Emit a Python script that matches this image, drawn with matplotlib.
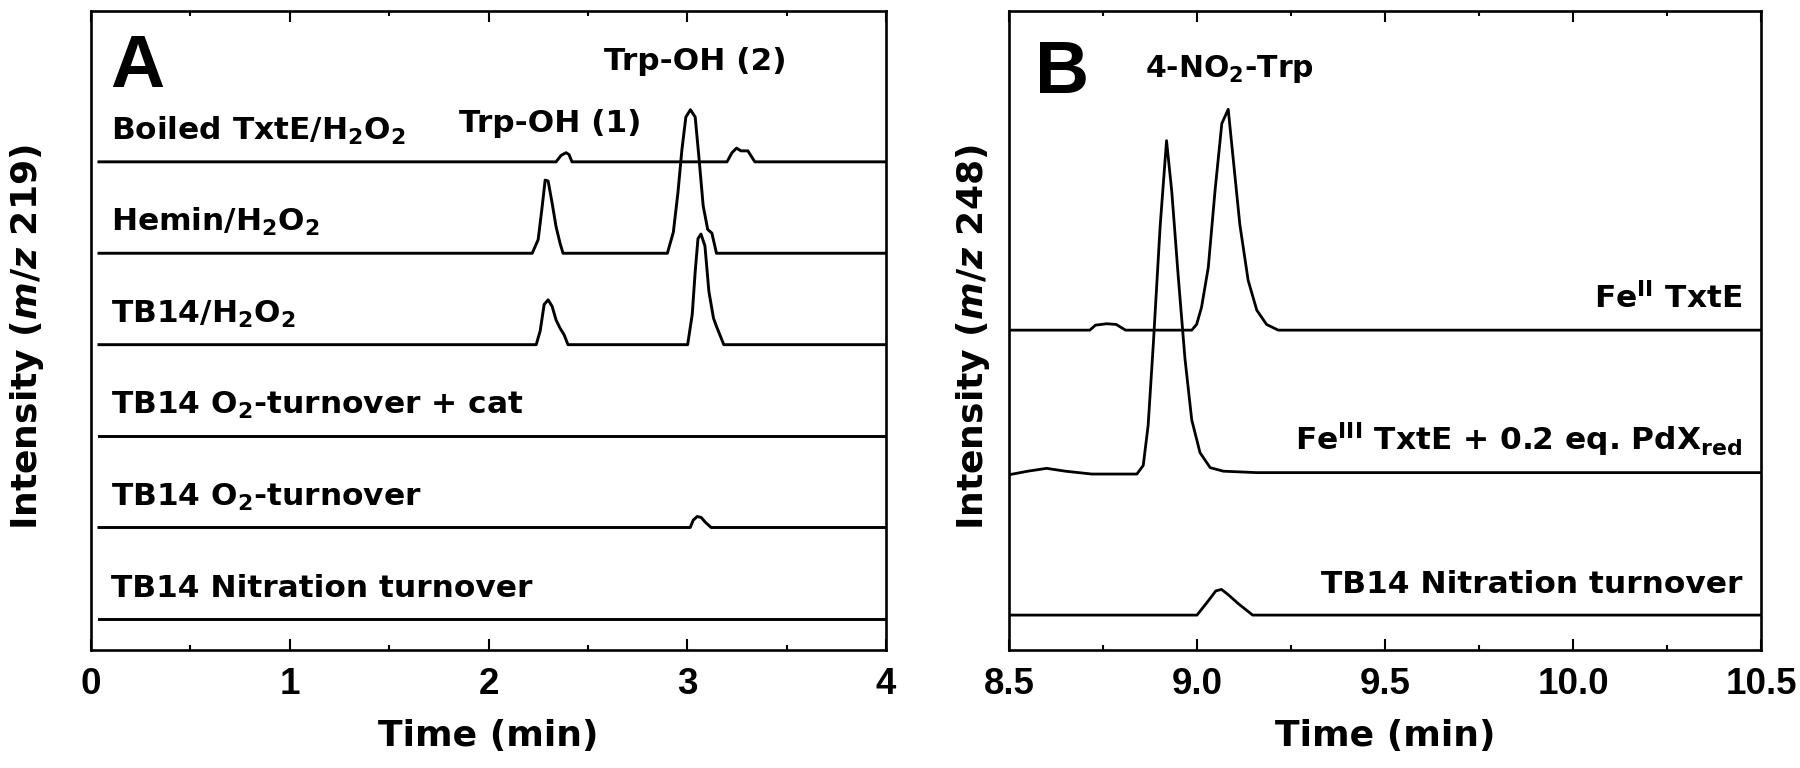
import matplotlib
matplotlib.use("Agg")
import matplotlib.pyplot as plt
from matplotlib.ticker import MultipleLocator, FormatStrFormatter

# ---------------- data ----------------
# Panel A: m/z 219 chromatograms (time in min, relative intensity)
boiled_t = [0.04, 2.34, 2.365, 2.39, 2.405, 2.42, 3.20, 3.225, 3.248, 3.27, 3.305, 3.34, 4.0]
boiled_i = [0, 0, 0.07, 0.10, 0.08, 0, 0, 0.10, 0.15, 0.12, 0.12, 0, 0]

hemin_t = [0.04, 2.22, 2.25, 2.27, 2.285, 2.30, 2.32, 2.34, 2.36, 2.375,
           2.90, 2.93, 2.953, 2.973, 2.993, 3.016, 3.04, 3.06, 3.08, 3.103, 3.124, 3.147, 4.0]
hemin_i = [0, 0, 0.15, 0.51, 0.80, 0.79, 0.55, 0.29, 0.11, 0,
           0, 0.23, 0.66, 1.13, 1.49, 1.57, 1.49, 1.02, 0.52, 0.26, 0.22, 0, 0]

tb14_t = [0.04, 2.24, 2.26, 2.28, 2.30, 2.32, 2.34, 2.36, 2.38, 2.40,
          3.002, 3.025, 3.04, 3.054, 3.069, 3.089, 3.109, 3.132, 3.147, 3.184, 4.0]
tb14_i = [0, 0, 0.15, 0.44, 0.49, 0.42, 0.27, 0.18, 0.11, 0,
          0, 0.33, 0.80, 1.16, 1.21, 1.08, 0.58, 0.29, 0.20, 0, 0]

cat_t = [0.04, 4.0]
cat_i = [0, 0]

o2_t = [0.04, 3.015, 3.03, 3.05, 3.07, 3.09, 3.12, 4.0]
o2_i = [0, 0, 0.08, 0.12, 0.11, 0.06, 0, 0]

nitA_t = [0.04, 4.0]
nitA_i = [0, 0]

labels_A = ["Boiled TxtE/H$_2$O$_2$", "Hemin/H$_2$O$_2$", "TB14/H$_2$O$_2$",
            "TB14 O$_2$-turnover + cat", "TB14 O$_2$-turnover", "TB14 Nitration turnover"]
xticks_A = [0, 1, 2, 3, 4]

# Panel B: m/z 248 chromatograms
fe2_t = [8.5, 8.715, 8.73, 8.76, 8.785, 8.81, 8.986, 8.999, 9.012, 9.030, 9.048, 9.066,
         9.083, 9.096, 9.114, 9.136, 9.159, 9.185, 9.216, 10.5]
fe2_i = [0, 0, 0.035, 0.045, 0.04, 0, 0, 0.04, 0.16, 0.44, 0.98, 1.45,
         1.55, 1.21, 0.74, 0.35, 0.14, 0.04, 0, 0]

fe3_t = [8.5, 8.55, 8.6, 8.65, 8.72, 8.84, 8.857, 8.870, 8.884, 8.902, 8.919, 8.933,
         8.950, 8.968, 8.986, 9.008, 9.035, 9.07, 9.159, 10.5]
fe3_i = [-0.015, 0.01, 0.03, 0.01, -0.01, -0.01, 0.05, 0.33, 0.91, 1.73, 2.33, 1.97,
         1.38, 0.80, 0.37, 0.14, 0.035, 0.01, 0, 0]

nitB_t = [8.5, 9.0, 9.03, 9.05, 9.065, 9.08, 9.11, 9.148, 10.5]
nitB_i = [0, 0, 0.10, 0.17, 0.18, 0.15, 0.08, 0, 0]

labels_B = ["Fe$^{\\mathrm{II}}$ TxtE",
            "Fe$^{\\mathrm{III}}$ TxtE + 0.2 eq. PdX$_{\\mathrm{red}}$",
            "TB14 Nitration turnover"]
xticks_B = [8.5, 9.0, 9.5, 10.0, 10.5]

# ---------------- style ----------------
plt.rcParams['font.family'] = ['DejaVu Sans']
plt.rcParams['font.weight'] = 'bold'
plt.rcParams['mathtext.fontset'] = 'custom'
plt.rcParams['mathtext.rm'] = 'DejaVu Sans:bold'
plt.rcParams['mathtext.it'] = 'DejaVu Sans:italic:bold'
plt.rcParams['mathtext.bf'] = 'DejaVu Sans:bold'

TICKFONT = ['Liberation Sans', 'DejaVu Sans']

fig = plt.figure(figsize=(18, 7.68), dpi=100)
axA = fig.add_axes([91/1800, 118/768, 795/1800, 639/768])
axB = fig.add_axes([1009/1800, 118/768, 752/1800, 639/768])

LBL = 22.5
TICK = 26.5

def style(ax):
    for s in ax.spines.values():
        s.set_linewidth(1.9)
    ax.tick_params(axis='x', which='both', direction='in', top=True, bottom=True,
                   width=1.5, labelsize=TICK, pad=12)
    ax.tick_params(axis='x', which='major', length=8)
    ax.tick_params(axis='x', which='minor', length=3.8)
    ax.tick_params(axis='y', which='both', left=False, right=False, labelleft=False)
    for t in ax.get_xticklabels():
        t.set_fontweight('bold')
        t.set_family(TICKFONT)

# ---------------- panel A ----------------
offsets_A = [5, 4, 3, 2, 1, 0]
traces_A = [(boiled_t, boiled_i), (hemin_t, hemin_i), (tb14_t, tb14_i),
            (cat_t, cat_i), (o2_t, o2_i), (nitA_t, nitA_i)]
for (t, i), off, lab in zip(traces_A, offsets_A, labels_A):
    axA.plot(t, [v + off for v in i], color='black', lw=2.1, solid_joinstyle='round')
    axA.text(0.1, off + 0.24, lab, fontsize=LBL, fontweight='bold', ha='left', va='baseline')

axA.text(2.31, 5.33, "Trp-OH (1)", fontsize=LBL, fontweight='bold', ha='center', va='baseline')
axA.text(3.04, 6.0, "Trp-OH (2)", fontsize=LBL, fontweight='bold', ha='center', va='baseline')
axA.text(0.024, 0.881, "A", transform=axA.transAxes, fontsize=54, fontweight='bold',
         ha='left', va='baseline', family=TICKFONT)

axA.set_xlim(0, 4)
axA.set_ylim(-0.34, 6.65)
axA.set_xticks(xticks_A)
axA.xaxis.set_minor_locator(MultipleLocator(0.5))
axA.xaxis.set_major_formatter(FormatStrFormatter('%d'))
style(axA)
axA.set_xlabel("Time (min)", fontsize=26, fontweight='bold')
axA.xaxis.set_label_coords(0.5, -0.108)
axA.set_ylabel("Intensity ($m/z$ 219)", fontsize=26, fontweight='bold')
axA.yaxis.set_label_coords(-0.057, 0.49)

# ---------------- panel B ----------------
offsets_B = [2, 1, 0]
traces_B = [(fe2_t, fe2_i), (fe3_t, fe3_i), (nitB_t, nitB_i)]
for (t, i), off, lab in zip(traces_B, offsets_B, labels_B):
    axB.plot(t, [v + off for v in i], color='black', lw=2.0, solid_joinstyle='round')
    axB.text(10.45, off + 0.155, lab, fontsize=LBL, fontweight='bold', ha='right', va='baseline')

axB.text(8.862, 3.78, "4-NO$_2$-Trp", fontsize=21.5, fontweight='bold', ha='left', va='baseline')
axB.text(0.035, 0.872, "B", transform=axB.transAxes, fontsize=54, fontweight='bold',
         ha='left', va='baseline', family=TICKFONT)

axB.set_xlim(8.5, 10.5)
axB.set_ylim(-0.245, 4.24)
axB.set_xticks(xticks_B)
axB.xaxis.set_minor_locator(MultipleLocator(0.25))
axB.xaxis.set_major_formatter(FormatStrFormatter('%.1f'))
style(axB)
axB.set_xlabel("Time (min)", fontsize=26, fontweight='bold')
axB.xaxis.set_label_coords(0.5, -0.108)
axB.set_ylabel("Intensity ($m/z$ 248)", fontsize=26, fontweight='bold')
axB.yaxis.set_label_coords(-0.022, 0.49)

fig.savefig("out.png", dpi=100)
